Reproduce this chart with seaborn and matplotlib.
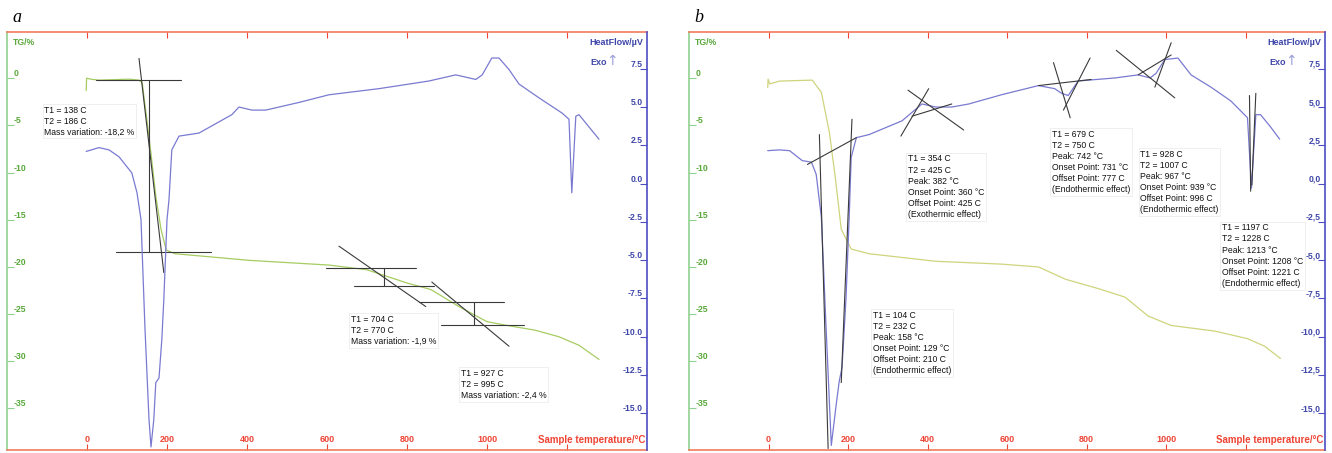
import matplotlib
matplotlib.use("Agg")
import matplotlib.pyplot as plt
import seaborn as sns

# ---------------- data ----------------
x_ticks = [0, 200, 400, 600, 800, 1000, 1200]
x_tick_labels = ["0", "200", "400", "600", "800", "1000", ""]
tg_ticks = [0, -5, -10, -15, -20, -25, -30, -35]
hf_ticks = [7.5, 5.0, 2.5, 0.0, -2.5, -5.0, -7.5, -10.0, -12.5, -15.0]

# panel a : TG (%) vs temperature
a_tg_T = [-2, -1, 10, 30, 105, 130, 138, 150, 160, 172, 185, 198, 220, 300, 405,
          605, 700, 800, 860, 930, 1000, 1050, 1120, 1180, 1230, 1280]
a_tg = [-1.3, 0.0, -0.1, -0.2, -0.1, -0.2, -0.5, -4.5, -8.0, -12.5, -16.0, -18.2,
        -18.6, -18.9, -19.3, -19.8, -20.3, -21.7, -22.4, -24.2, -25.8, -26.2,
        -26.7, -27.4, -28.3, -29.8]
# panel a : heat flow (uV)
a_hf_T = [-2, 30, 55, 80, 112, 125, 135, 145, 155, 160, 167, 172, 180, 187, 192,
          200, 205, 212, 230, 280, 362, 380, 412, 447, 530, 605, 730, 855, 922,
          972, 988, 1012, 1030, 1055, 1080, 1130, 1188, 1205, 1212, 1222, 1230,
          1255, 1280]
a_hf = [2.1, 2.35, 2.2, 1.75, 0.7, -0.6, -2.35, -9.5, -15.4, -17.2, -15.4, -13.0,
        -12.7, -10.2, -7.6, -2.35, -1.05, 2.2, 3.1, 3.3, 4.5, 5.0, 4.8, 4.8, 5.3,
        5.8, 6.2, 6.7, 7.1, 6.8, 7.1, 8.2, 8.2, 7.45, 6.5, 5.6, 4.6, 4.2, -0.6,
        4.4, 4.5, 3.7, 2.9]
# panel a : construction lines on the TG curve ((T1, TG1), (T2, TG2))
a_tangents = [((22, -0.2), (235, -0.2)), ((130, 2.1), (192, -20.6)),
              ((155, -0.2), (155, -18.4)), ((72, -18.4), (310, -18.4)),
              ((597, -20.1), (822, -20.1)), ((667, -22.0), (867, -22.0)),
              ((742, -20.1), (742, -22.0)), ((630, -17.8), (847, -24.2)),
              ((830, -23.7), (1042, -23.7)), ((885, -26.2), (1092, -26.2)),
              ((967, -23.7), (967, -26.2)), ((862, -21.6), (1055, -28.4))]
a_notes = ["T1 = 138 C\nT2 = 186 C\nMass variation: -18,2 %",
           "T1 = 704 C\nT2 = 770 C\nMass variation: -1,9 %",
           "T1 = 927 C\nT2 = 995 C\nMass variation: -2,4 %"]
a_note_pos = [(-107, -2.9), (660, -25.1), (935, -30.8)]   # (T, TG)

# panel b : TG (%)
b_tg_T = [-2, -1, 3, 28, 110, 133, 153, 168, 183, 208, 253, 421, 586, 679, 747,
          830, 897, 955, 1013, 1123, 1205, 1248, 1288]
b_tg = [-1.0, -0.1, -0.6, -0.3, -0.2, -1.5, -5.7, -10.5, -16.0, -18.1, -18.6,
        -19.4, -19.7, -20.0, -21.3, -22.3, -23.2, -25.2, -26.2, -26.8, -27.6,
        -28.4, -29.7]
# panel b : heat flow (uV)
b_hf_T = [-2, 28, 53, 85, 108, 120, 133, 145, 158, 170, 178, 185, 195, 203, 208,
          221, 253, 336, 386, 421, 461, 504, 586, 679, 720, 737, 754, 779, 872,
          930, 960, 975, 997, 1030, 1063, 1113, 1163, 1205, 1215, 1226, 1238,
          1263, 1286]
b_hf = [2.15, 2.2, 2.15, 1.5, 1.4, 0.6, -2.2, -9.5, -17.1, -14.5, -12.9, -12.0,
        -7.5, -2.2, 1.7, 3.0, 3.2, 4.1, 5.2, 5.0, 5.0, 5.2, 5.8, 6.4, 6.2, 5.9,
        5.75, 6.7, 6.9, 7.1, 6.9, 7.2, 8.1, 8.2, 7.1, 6.3, 5.4, 4.3, -0.3, 4.5,
        4.5, 3.7, 2.9]
# panel b : construction lines on the heat-flow curve ((T1, HF1), (T2, HF2))
b_tangents = [((128, 3.2), (150, -17.3)), ((210, 4.2), (183, -13.0)),
              ((98, 1.25), (221, 3.0)),
              ((333, 3.1), (403, 6.2)), ((351, 6.1), (491, 3.5)), ((361, 4.4), (461, 5.2)),
              ((717, 7.9), (759, 4.3)), ((809, 8.2), (742, 4.8)), ((679, 6.4), (812, 6.8)),
              ((875, 8.7), (1022, 5.6)), ((1013, 9.2), (972, 6.3)), ((930, 7.1), (1013, 8.4)),
              ((1210, 5.75), (1213, -0.5)), ((1226, 5.9), (1216, -0.1))]
b_notes = ["T1 = 104 C\nT2 = 232 C\nPeak: 158 \u00b0C\nOnset Point: 129 \u00b0C\nOffset Point: 210 C\n(Endothermic effect)",
           "T1 = 354 C\nT2 = 425 C\nPeak: 382 \u00b0C\nOnset Point: 360 \u00b0C\nOffset Point: 425 C\n(Exothermic effect)",
           "T1 = 679 C\nT2 = 750 C\nPeak: 742 \u00b0C\nOnset Point: 731 \u00b0C\nOffset Point: 777 C\n(Endothermic effect)",
           "T1 = 928 C\nT2 = 1007 C\nPeak: 967 \u00b0C\nOnset Point: 939 \u00b0C\nOffset Point: 996 C\n(Endothermic effect)",
           "T1 = 1197 C\nT2 = 1228 C\nPeak: 1213 \u00b0C\nOnset Point: 1208 \u00b0C\nOffset Point: 1221 C\n(Endothermic effect)"]
b_note_pos = [(263, -8.3), (351, 1.9), (712, 3.5), (935, 2.2), (1140, -2.6)]  # (T, HF)

# ---------------- styling ----------------
sns.set_theme(style="white")
plt.rcParams["font.family"] = ["Liberation Sans", "DejaVu Sans"]

GREEN_SPINE = "#8fd28f"
GREEN_TXT = "#58a83a"
BLUE_SPINE = "#4d4dc2"
BLUE_TXT = "#3e46a8"
RED = "#ee4434"
TOP_RED = "#f27a5e"
HF_LINE = "#7a7ad2"
TAN = "#3a3a3a"
NOTE_FONT = ["Liberation Sans Narrow", "Liberation Sans", "DejaVu Sans"]

fig = plt.figure(figsize=(13.32, 4.53), dpi=100)


def panel(rect, letter, letter_x, tg_T, tg, tg_color, hf_T, hf, tangents, tan_on_hf,
          notes, note_pos, notes_on_hf, dec):
    ax = fig.add_axes(rect)
    ax2 = ax.twinx()
    ax.set_xlim(-200, 1400)
    ax.set_ylim(-39.4, 4.9)
    ax2.set_ylim(-17.4, 9.9)

    sns.lineplot(x=tg_T, y=tg, ax=ax, color=tg_color, linewidth=0.9, sort=False,
                 estimator=None)
    sns.lineplot(x=hf_T, y=hf, ax=ax2, color=HF_LINE, linewidth=0.9, sort=False,
                 estimator=None)
    tax = ax2 if tan_on_hf else ax
    for (p, q) in tangents:
        tax.plot([p[0], q[0]], [p[1], q[1]], color=TAN, linewidth=0.8, zorder=3)

    nax = ax2 if notes_on_hf else ax
    for s, (tx, ty) in zip(notes, note_pos):
        nax.text(tx, ty, s, fontsize=6.2, family=NOTE_FONT, color="#111111",
                 ha="left", va="top", linespacing=1.3, zorder=6,
                 bbox=dict(fc="white", ec="#e6e6e6", lw=0.5, pad=1.2, alpha=0.9))

    for a in (ax, ax2):
        a.set_xlabel("")
        a.set_ylabel("")
        a.grid(False)
    ax.set_facecolor("white")

    # spines
    ax.spines["left"].set_color(GREEN_SPINE)
    ax.spines["top"].set_color(TOP_RED)
    ax.spines["bottom"].set_color(TOP_RED)
    ax.spines["right"].set_visible(False)
    for sp in ("left", "top", "bottom"):
        ax2.spines[sp].set_visible(False)
    ax2.spines["right"].set_color(BLUE_SPINE)
    for sp in ax.spines.values():
        sp.set_linewidth(1.2)
    ax2.spines["right"].set_linewidth(1.2)

    # x ticks
    ax.set_xticks(x_ticks, x_tick_labels, fontweight="bold")
    ax.tick_params(axis="x", direction="in", length=4, width=0.8, color=RED,
                   top=True, bottom=True, labelcolor=RED, labelsize=6.5, pad=-10.5)
    # left TG ticks
    ax.set_yticks(tg_ticks, [f"{v:g}" for v in tg_ticks], ha="left", va="bottom",
                  fontweight="bold")
    ax.tick_params(axis="y", direction="in", length=5, width=0.8, color=GREEN_SPINE,
                   labelcolor=GREEN_TXT, labelsize=6.2, pad=-5)
    # right HF ticks
    ax2.set_yticks(hf_ticks, [f"{v:.1f}".replace(".", dec) for v in hf_ticks],
                   ha="right", va="bottom", fontweight="bold")
    ax2.tick_params(axis="y", direction="in", length=5, width=0.8, color=BLUE_SPINE,
                    labelcolor=BLUE_TXT, labelsize=6.2, pad=-3)

    # axis titles inside the frame
    ax.text(0.009, 0.976, "TG/%", transform=ax.transAxes, color=GREEN_TXT,
            fontsize=6.2, fontweight="bold", ha="left", va="center")
    ax2.text(0.994, 0.974, "HeatFlow/\u00b5V", transform=ax2.transAxes, color=BLUE_TXT,
             fontsize=6.5, fontweight="bold", ha="right", va="center")
    ax2.text(0.938, 0.928, "Exo", transform=ax2.transAxes, color=BLUE_TXT,
             fontsize=6.5, fontweight="bold", ha="right", va="center")
    ax2.text(0.946, 0.93, "\u2191", transform=ax2.transAxes, color="#9aa0d8",
             fontsize=10, family="DejaVu Sans", ha="center", va="center")
    ax.text(0.997, 0.024, "Sample temperature/\u00b0C", transform=ax.transAxes,
            color=RED, fontsize=7, fontweight="bold", ha="right", va="center")

    fig.text(letter_x, 1 - 22 / 453, letter, fontsize=13, fontstyle="italic",
             family=["Liberation Serif", "DejaVu Serif"], ha="left", va="baseline",
             color="black")
    return ax, ax2


W, H = 1332, 453
panel([7 / W, 3 / H, 640 / W, 418 / H], "a", 12 / W, a_tg_T, a_tg, "#a6cc62",
      a_hf_T, a_hf, a_tangents, False, a_notes, a_note_pos, False, ".")
panel([689 / W, 3 / H, 636 / W, 418 / H], "b", 694 / W, b_tg_T, b_tg, "#cfd47c",
      b_hf_T, b_hf, b_tangents, True, b_notes, b_note_pos, True, ",")

fig.savefig("out.png", dpi=100, facecolor="white")
